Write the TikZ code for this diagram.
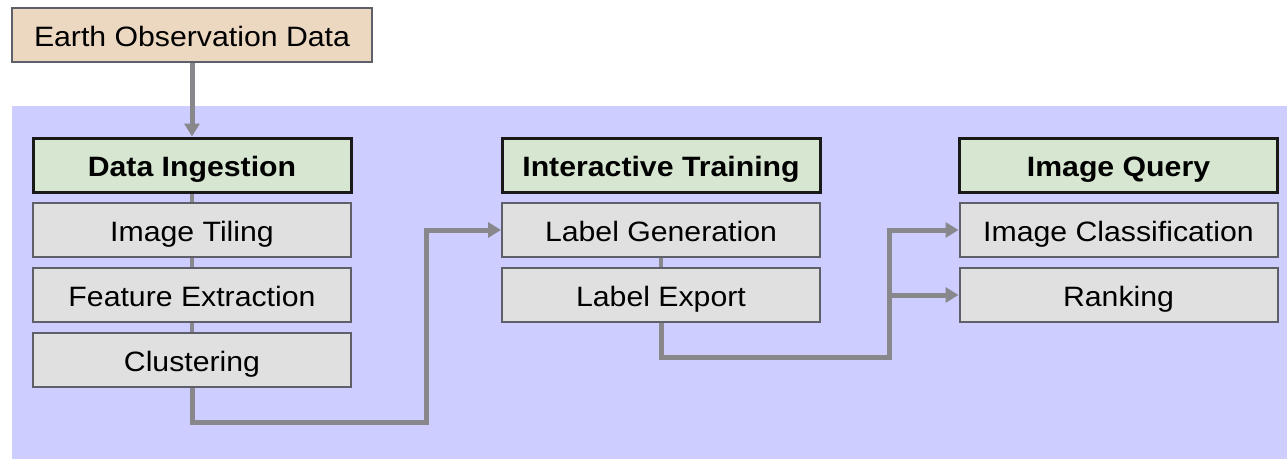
\documentclass[tikz,border=0pt]{standalone}
\usepackage{fontspec}
\usepackage{graphicx}
\setmainfont{Liberation Sans}
\usetikzlibrary{arrows.meta}
\definecolor{bgblue}{RGB}{205,205,255}
\definecolor{tanfill}{RGB}{236,215,193}
\definecolor{greenfill}{RGB}{214,230,208}
\definecolor{grayfill}{RGB}{224,224,224}
\definecolor{grayborder}{RGB}{95,95,105}
\definecolor{conncol}{RGB}{136,136,140}
\newcommand{\stx}[1]{\scalebox{1.08}[1]{#1}}
\pgfdeclarelayer{back}
\pgfdeclarelayer{lines}
\pgfsetlayers{back,lines,main}
\begin{document}
\begin{tikzpicture}[x=1pt,y=-1pt,
  basebox/.style={minimum width=318pt,minimum height=54pt,inner sep=0pt,
    text height=24pt,text depth=2pt,
    font=\fontsize{28}{32}\selectfont},
  srcbox/.style={basebox,minimum width=360pt,fill=tanfill,draw=grayborder,line width=2pt},
  headbox/.style={basebox,fill=greenfill,draw=black!90,line width=3pt,
    font=\fontsize{28}{32}\selectfont\bfseries},
  subbox/.style={basebox,fill=grayfill,draw=grayborder,line width=2pt},
  conn/.style={draw=conncol,line width=5pt},
  arr/.style={conn,-{Triangle[length=13pt,width=15pt]}}]
\useasboundingbox (0,0) rectangle (1287,459);
\begin{pgfonlayer}{back}
\fill[bgblue] (12,106) rectangle (1287,459);
\end{pgfonlayer}

\node[srcbox] (eod) at (192,35) {\stx{Earth Observation Data}};

\node[headbox] (di) at (192,165) {\stx{Data Ingestion}};
\node[subbox] (it) at (192,230) {\stx{Image Tiling}};
\node[subbox] (fe) at (192,295) {\stx{Feature Extraction}};
\node[subbox] (cl) at (192,360) {\stx{Clustering}};

\node[headbox] (itr) at (661,165) {\stx{Interactive Training}};
\node[subbox] (lg) at (661,230) {\stx{Label Generation}};
\node[subbox] (le) at (661,295) {\stx{Label Export}};

\node[headbox] (iq) at (1118.5,165) {\stx{Image Query}};
\node[subbox] (ic) at (1118.5,230) {\stx{Image Classification}};
\node[subbox] (rk) at (1118.5,295) {\stx{Ranking}};

\begin{pgfonlayer}{lines}
\draw[arr] (eod.south) -- (di.north);
\draw[conn,line width=4.5pt] (di.south) -- (cl.north);
\draw[arr] (cl.south) -- ++(0,34) -- ++(234,0) |- (lg.west);
\draw[conn,line width=4.5pt] (lg.south) -- (le.north);
\draw[arr] (le.south) -- ++(0,34) -- ++(228,0) coordinate (bend) |- (ic.west);
\draw[arr] (bend |- rk.west) -- (rk.west);
\end{pgfonlayer}
\end{tikzpicture}
\end{document}
